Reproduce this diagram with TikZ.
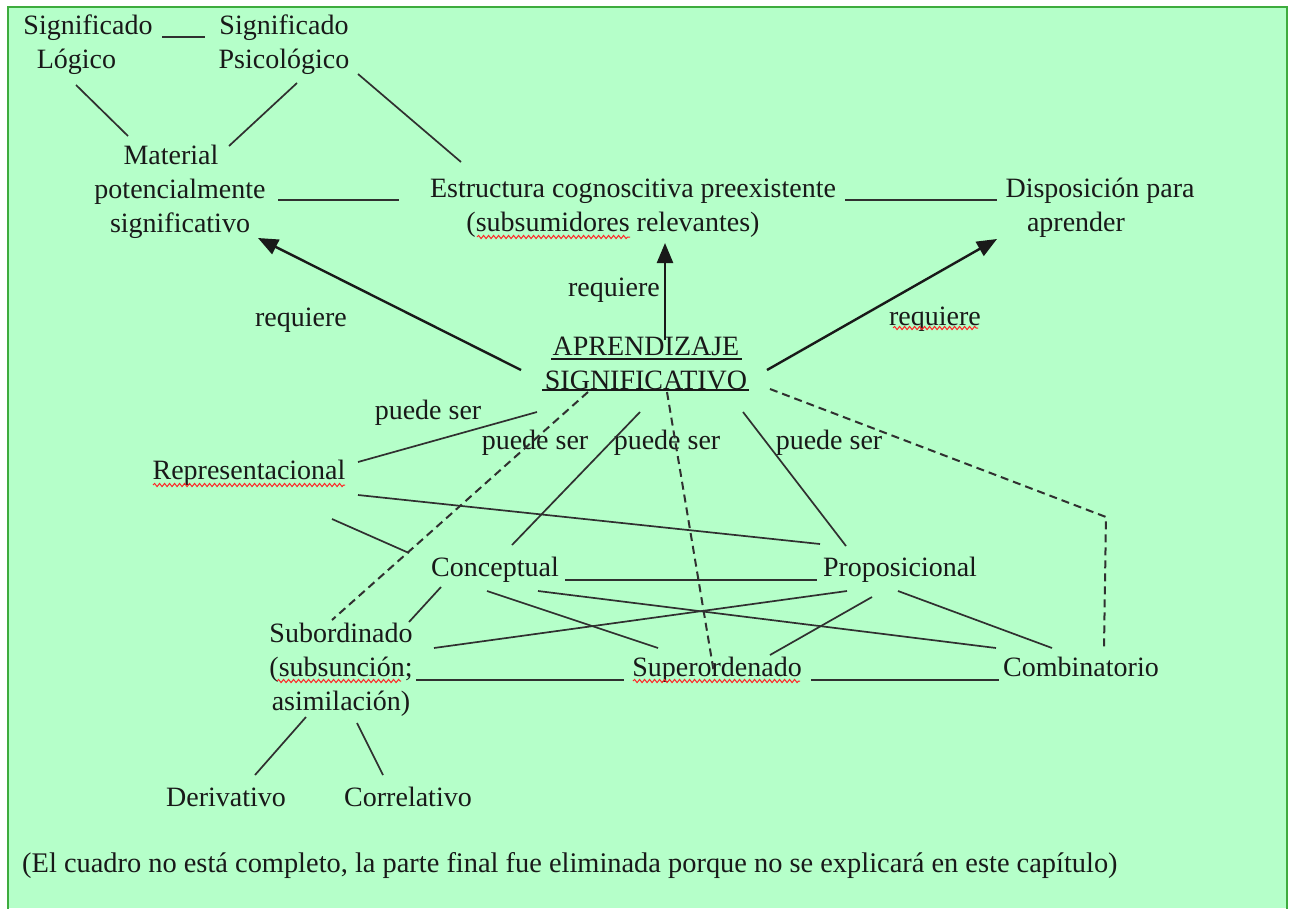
\documentclass[tikz,border=0pt]{standalone}
\usepackage{fontspec}
\setmainfont{Liberation Serif}
\usetikzlibrary{arrows.meta,decorations.pathmorphing}
\definecolor{bg}{RGB}{181,255,201}
\definecolor{frame}{RGB}{62,172,62}
\definecolor{ink}{RGB}{25,25,25}
\begin{document}
\begin{tikzpicture}[x=1pt,y=-1pt,
  txt/.style={inner sep=0pt, text depth=0pt, align=center, font=\fontsize{28}{34}\selectfont, text=ink},
  ln/.style={line width=1.7pt, draw=ink!90},
  dsh/.style={line width=2pt, draw=ink!90, dash pattern=on 8pt off 5pt},
  arr/.style={line width=2.4pt, draw=ink, -{Triangle[length=20pt,width=16pt]}},
  wav/.style={draw=red!85, line width=1pt, decorate, decoration={snake, segment length=5pt, amplitude=1.6pt}},
  ul/.style={line width=1.8pt, draw=ink}]
\useasboundingbox (0,0) rectangle (1292,908);
\fill[white] (0,0) rectangle (1292,908);
\fill[bg] (8,7) rectangle (1287,908);
\draw[frame, line width=2.6pt] (8,910) -- (8,7) -- (1287,7) -- (1287,910);

% nodes
\node[txt] (sigL) at (88,42) {Significado\\Lógico\hspace*{23pt}};
\node[txt] (sigP) at (284,42) {Significado\\Psicológico};
\node[txt] (mat) at (180,189) {Material\hspace*{18pt}\\potencialmente\\significativo};
\node[txt] (est) at (633,205) {Estructura cognoscitiva preexistente\\(subsumidores relevantes)\hspace*{40pt}};
\node[txt] (disp) at (1100,205) {Disposición para\\aprender\hspace*{48pt}};
\node[txt] (apr) at (646,363) {APRENDIZAJE\\SIGNIFICATIVO};
\node[txt] (rep) at (249,470) {Representacional};
\node[txt] (con) at (495,567) {Conceptual};
\node[txt] (pro) at (900,567) {Proposicional};
\node[txt] (sub) at (341,667) {Subordinado\\(subsunción;\\asimilación)};
\node[txt] (sup) at (717,667) {Superordenado};
\node[txt] (com) at (1081,667) {Combinatorio};
\node[txt] (der) at (226,797) {Derivativo};
\node[txt] (cor) at (408,797) {Correlativo};
\node[txt, anchor=west, font=\fontsize{28.4}{34}\selectfont] (nota) at (22,862) {(El cuadro no está completo, la parte final fue eliminada porque no se explicará en este capítulo)};

% labels
\node[txt] (req1) at (301,317) {requiere};
\node[txt] (req2) at (614,287) {requiere};
\node[txt] (req3) at (935,316) {requiere};
\node[txt] (ps1) at (428,410) {puede ser};
\node[txt] (ps2) at (535,440) {puede ser};
\node[txt] (ps3) at (667,440) {puede ser};
\node[txt] (ps4) at (829,440) {puede ser};

% underlines of APRENDIZAJE SIGNIFICATIVO
\draw[ul] ([shift={(-95,-4)}]apr.center) -- ([shift={(96,-4)}]apr.center);
\draw[ul] ([shift={(-104,27)}]apr.center) -- ([shift={(103,27)}]apr.center);

% spell-check squiggles
\draw[wav] ([shift={(-156,32)}]est.center) -- ([shift={(-3,32)}]est.center);
\draw[wav] ([shift={(-42,12)}]req3.center) -- ([shift={(43,12)}]req3.center);
\draw[wav] ([shift={(-96,15)}]rep.center) -- ([shift={(96,15)}]rep.center);
\draw[wav] ([shift={(-64,14)}]sub.center) -- ([shift={(60,14)}]sub.center);
\draw[wav] ([shift={(-84,14)}]sup.center) -- ([shift={(83,14)}]sup.center);

% top connectors
\draw[ln] ([shift={(74,-5)}]sigL.center) -- ([shift={(-79,-5)}]sigP.center);
\draw[ln] ([shift={(-12,43)}]sigL.center) -- ([shift={(-52,-53)}]mat.center);
\draw[ln] ([shift={(13,41)}]sigP.center) -- ([shift={(49,-43)}]mat.center);
\draw[ln] ([shift={(74,32)}]sigP.center) -- ([shift={(-172,-43)}]est.center);
\draw[ln] ([shift={(98,11)}]mat.center) -- ([shift={(-234,-5)}]est.center);
\draw[ln] ([shift={(212,-5)}]est.center) -- ([shift={(-103,-5)}]disp.center);

% arrows
\draw[arr] ([shift={(-125,7)}]apr.center) -- ([shift={(78,49)}]mat.center);
\draw[arr] ([shift={(19,-23)}]apr.center) -- ([shift={(32,38)}]est.center);
\draw[arr] ([shift={(121,7)}]apr.center) -- ([shift={(-103,34)}]disp.center);

% puede ser lines
\draw[ln] ([shift={(-109,49)}]apr.center) -- ([shift={(109,-8)}]rep.center);
\draw[ln] ([shift={(-6,49)}]apr.center) -- ([shift={(17,-22)}]con.center);
\draw[ln] ([shift={(97,49)}]apr.center) -- ([shift={(-54,-21)}]pro.center);

% dashed lines
\coordinate (comk) at (1106,517);
\draw[dsh] ([shift={(-58,29)}]apr.center) -- ([shift={(-9,-47)}]sub.center);
\draw[dsh] ([shift={(21,29)}]apr.center) -- ([shift={(-3,6)}]sup.center);
\draw[dsh] ([shift={(124,26)}]apr.center) -- (comk) -- ([shift={(23,-20)}]com.center);

% middle connectors
\draw[ln] ([shift={(109,25)}]rep.center) -- ([shift={(-80,-23)}]pro.center);
\draw[ln] ([shift={(83,49)}]rep.center) -- ([shift={(-86,-14)}]con.center);
\draw[ln] ([shift={(70,13)}]con.center) -- ([shift={(-83,13)}]pro.center);
\draw[ln] ([shift={(-54,20)}]con.center) -- ([shift={(68,-45)}]sub.center);
\draw[ln] ([shift={(-8,24)}]con.center) -- ([shift={(-59,-19)}]sup.center);
\draw[ln] ([shift={(43,24)}]con.center) -- ([shift={(-85,-19)}]com.center);
\draw[ln] ([shift={(-53,24)}]pro.center) -- ([shift={(93,-19)}]sub.center);
\draw[ln] ([shift={(-28,30)}]pro.center) -- ([shift={(53,-12)}]sup.center);
\draw[ln] ([shift={(-2,24)}]pro.center) -- ([shift={(-29,-19)}]com.center);
\draw[ln] ([shift={(75,13)}]sub.center) -- ([shift={(-93,13)}]sup.center);
\draw[ln] ([shift={(94,13)}]sup.center) -- ([shift={(-82,13)}]com.center);

% bottom
\draw[ln] ([shift={(-35,50)}]sub.center) -- ([shift={(29,-22)}]der.center);
\draw[ln] ([shift={(16,56)}]sub.center) -- ([shift={(-25,-22)}]cor.center);
\end{tikzpicture}
\end{document}
